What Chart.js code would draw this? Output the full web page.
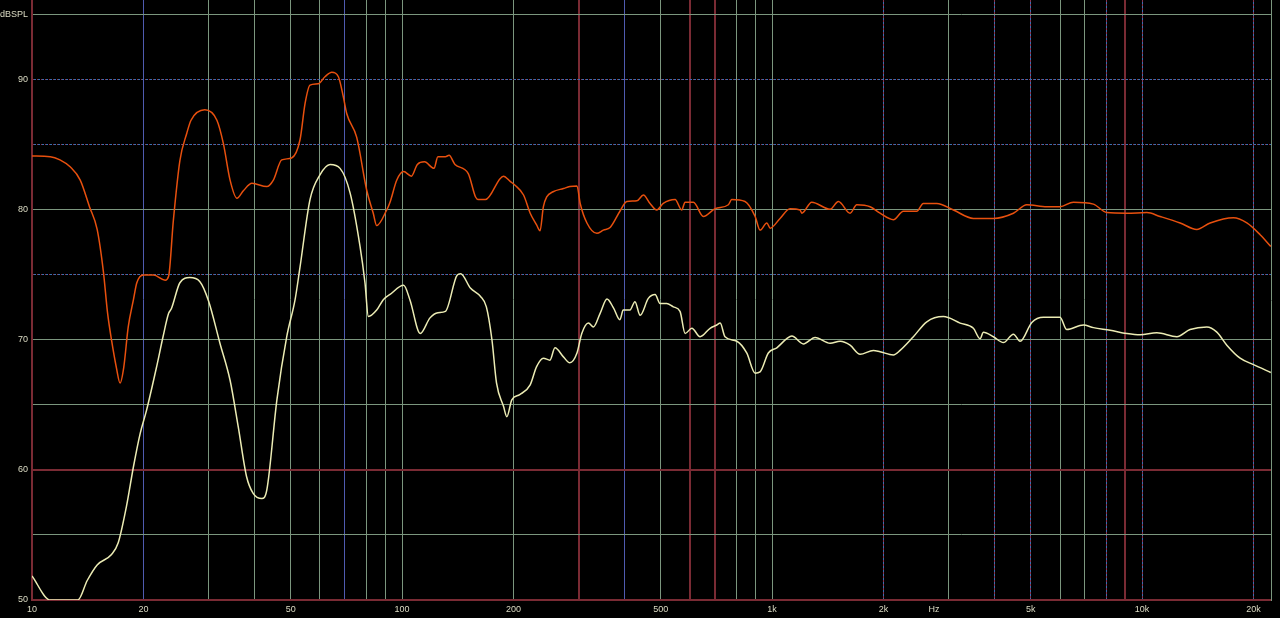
<!DOCTYPE html>
<html>
<head>
    <meta charset="UTF-8">
    <title>Frequency response</title>
    <script src="https://cdn.jsdelivr.net/npm/chart.js@4.4.1/dist/chart.umd.min.js"></script>
    <style>
        html, body {
            margin: 0;
            padding: 0;
            background: #000;
        }
        canvas {
            display: block;
        }
    </style>
</head>
<body>
<canvas id="fr" width="1280" height="618"></canvas>

<script>
    // upper (orange) trace
    const upperHz = [10, 11.2, 11.9, 12.7, 13.5, 14.3, 15.0, 15.6, 16.0, 16.4, 16.9, 17.3, 17.7, 18.2, 18.8, 19.2,
        20.0, 21.3, 22.9, 23.4, 24.1, 25.1, 26.2, 26.9, 29.3, 31.6, 32.9, 34.3, 35.8, 37.3, 39.3, 43.1, 44.9, 47.3,
        50.3, 53.0, 54.7, 56.4, 59.4, 61.9, 64.6, 67.3, 69.4, 70.9, 75.4, 80.3, 83.6, 85.4, 90.9, 92.8, 96.8,
        101, 106, 110, 115, 122, 125, 131, 134, 139, 151, 158, 161, 168, 188, 196, 202, 213, 222, 231, 236, 241,
        246, 256, 273, 284, 297, 303, 316, 336, 350, 365, 388, 405, 431, 449, 468, 488, 508, 547, 570, 582, 613,
        652, 702, 762, 778, 845, 900, 928, 968, 988, 1051, 1118, 1190, 1203, 1280, 1435, 1511, 1625, 1694, 1840,
        1958, 2127, 2264, 2460, 2563, 2787, 3090, 3500, 3964, 4490, 4880, 5526, 6000, 6522, 7385, 8028, 9092,
        10300, 11180, 12670, 14050, 15270, 17650, 19190, 20840, 22270];
    const upperDb = [84.15, 84.1, 83.85, 83.3, 82.3, 80.25, 78.5, 75.2, 72.1, 70.0, 67.9, 66.7, 67.9, 71.0, 73.1, 74.4,
        75.0, 75.0, 74.6, 74.9, 79.2, 83.8, 85.9, 86.9, 87.7, 86.9, 85.1, 82.3, 80.9, 81.5, 82.05, 81.8, 82.3, 83.85,
        84.0, 85.4, 88.2, 89.6, 89.7, 90.25, 90.6, 90.25, 88.7, 87.4, 85.6, 81.5, 79.75, 78.8, 80.0, 80.6, 82.3,
        82.95, 82.6, 83.5, 83.7, 83.2, 84.1, 84.1, 84.2, 83.5, 82.8, 81.0, 80.8, 80.8, 82.6, 82.2, 81.9, 81.15, 79.75, 78.85, 78.4, 80.25,
        81.0, 81.4, 81.65, 81.8, 81.85, 80.5, 79.0, 78.2, 78.45, 78.65, 79.9, 80.65, 80.7, 81.15, 80.5, 80.0, 80.5, 80.8, 80.0, 80.6, 80.6,
        79.5, 80.1, 80.4, 80.8, 80.65, 79.5, 78.45, 79.0, 78.6, 79.35, 80.1, 80.0, 79.75, 80.6, 80.05, 80.65, 79.75, 80.4, 80.25,
        79.75, 79.25, 79.9, 79.9, 80.5, 80.5, 80.0, 79.35, 79.35, 79.75, 80.4, 80.25, 80.25, 80.6, 80.45, 79.8, 79.75,
        79.8, 79.5, 79.0, 78.5, 79.0, 79.4, 79.0, 78.1, 77.2];

    // lower (pale yellow) trace
    const lowerHz = [10, 11.2, 13.3, 14.1, 15.0, 16.4, 17.1, 18.0, 18.8, 19.6, 20.4, 21.7, 22.6, 23.4, 23.8, 25.1,
        26.7, 28.4, 30.0, 32.2, 34.3, 36.1, 38.0, 39.6, 41.8, 43.1, 45.9, 48.8, 51.4, 53.0, 56.4, 60.0, 63.9, 68.0,
        72.4, 77.0, 79.4, 81.1, 85.4, 89.0, 92.8, 101, 105, 112, 119, 125, 131, 141, 144, 153, 163, 169, 175, 180,
        188, 192, 198, 208, 222, 231, 241, 251, 259, 273, 284, 297, 306, 319, 329, 343, 358, 373, 388, 396, 413,
        426, 440, 463, 483, 498, 519, 541, 564, 582, 607, 639, 680, 709, 724, 746, 803, 854, 900, 928, 977, 1030,
        1096, 1131, 1215, 1307, 1435, 1527, 1625, 1729, 1878, 1958, 2127, 2218, 2409, 2619, 2904, 3222, 3500,
        3648, 3725, 3964, 4218, 4490, 4681, 5034, 5410, 6000, 6258, 6941, 7385, 8194, 9092, 9876, 10960, 12410,
        13480, 14960, 15920, 16940, 18400, 20000, 22270];
    const lowerDb = [51.85, 50.0, 50.0, 51.5, 52.7, 53.5, 54.4, 57.2, 60.25, 62.8, 64.6, 67.9, 70.25, 72.05, 72.4, 74.4,
        74.8, 74.5, 73.0, 69.75, 66.9, 63.3, 59.5, 58.2, 57.8, 58.45, 65.4, 70.25, 73.1, 75.6, 80.8, 82.7, 83.5, 83.2,
        81.3, 77.2, 74.4, 71.8, 72.3, 73.1, 73.5, 74.2, 73.1, 70.5, 71.7, 72.1, 72.2, 75.0, 75.1, 74.0, 73.35, 72.55, 70.0, 66.7,
        64.9, 64.1, 65.4, 65.8, 66.55, 67.95, 68.6, 68.45, 69.4, 68.7, 68.25, 69.0, 70.5, 71.3, 71.0, 72.05, 73.15, 72.45, 71.55, 72.3, 72.3,
        72.95, 71.9, 73.2, 73.5, 72.8, 72.8, 72.55, 72.2, 70.5, 70.9, 70.25, 70.9, 71.15, 71.3, 70.25, 69.9, 69.0, 67.45, 67.55, 69.0, 69.4,
        70.1, 70.3, 69.7, 70.2, 69.75, 69.9, 69.6, 68.9, 69.2, 69.1, 68.85, 69.2, 70.25, 71.4, 71.8, 71.3, 70.9,
        70.1, 70.6, 70.25, 69.8, 70.45, 69.9, 71.35, 71.75, 71.75, 70.8, 71.15, 70.95, 70.75, 70.5, 70.4, 70.55, 70.25,
        70.8, 71.0, 70.6, 69.6, 68.6, 68.1, 67.5];

    // axis ticks and their labels
    const freqTicks = [10, 20, 30, 40, 50, 60, 70, 80, 90, 100, 200, 300, 400, 500, 600, 700, 800, 900,
        1000, 2000, 2740, 3000, 4000, 5000, 6000, 7000, 8000, 9000, 10000, 20000];
    const freqLabels = {10: '10', 20: '20', 50: '50', 100: '100', 200: '200', 500: '500', 1000: '1k',
        2000: '2k', 2740: 'Hz', 5000: '5k', 10000: '10k', 20000: '20k'};
    const dbTicks = [50, 55, 60, 65, 70, 75, 80, 85, 90, 95];
    const dbLabels = {50: '50', 60: '60', 70: '70', 80: '80', 90: '90', 95: 'dBSPL'};

    // grid line look: g = grey-green, r = red, b = blue, d = dotted, n = none
    const xGridStyle = {10: 'n', 20: 'b', 70: 'b', 300: 'r', 400: 'b', 600: 'r', 700: 'r', 2000: 'd', 2740: 'n',
        4000: 'd', 5000: 'd', 8000: 'd', 9000: 'r', 10000: 'd', 20000: 'd'};
    const yGridStyle = {50: 'n', 60: 'r', 75: 'd', 85: 'd', 90: 'd'};

    const GREEN = '#7b967e';
    const RED = '#7a2b34';
    const BLUE = '#4f5bb0';
    const DOT_A = '#8c3350';
    const DOT_B = '#3a6fb0';
    const LABEL = '#dcdcc4';

    function styleOf(map, ctx) {
        if (!ctx.tick) return 'n';
        return map[ctx.tick.value] || 'g';
    }

    function gridColor(map, overlay) {
        return ctx => {
            const s = styleOf(map, ctx);
            if (overlay) return s === 'd' ? DOT_B : 'rgba(0,0,0,0)';
            if (s === 'g') return GREEN;
            if (s === 'r') return RED;
            if (s === 'b') return BLUE;
            if (s === 'd') return DOT_A;
            return 'rgba(0,0,0,0)';
        };
    }

    function gridWidth(map) {
        return ctx => styleOf(map, ctx) === 'r' ? 2 : 1;
    }

    function gridDash(map) {
        return ctx => styleOf(map, ctx) === 'd' ? [2, 2] : [];
    }

    // keep the plot flush with the canvas top
    function noPad(size, key) {
        return s => {
            s[key] = size;
            s.paddingTop = 0;
            s.paddingBottom = 0;
        };
    }

    const font = {family: 'Liberation Sans, Arial, sans-serif', size: 9};

    const chart = new Chart(document.getElementById('fr'), {
        type: 'line',
        data: {
            datasets: [{
                label: 'upper',
                data: upperHz.map((f, i) => ({x: f, y: upperDb[i]})),
                borderColor: '#e8500e',
                borderWidth: 1.5,
                pointRadius: 0,
                cubicInterpolationMode: 'monotone'
            }, {
                label: 'lower',
                data: lowerHz.map((f, i) => ({x: f, y: lowerDb[i]})),
                borderColor: '#ececb4',
                borderWidth: 1.5,
                pointRadius: 0,
                cubicInterpolationMode: 'monotone'
            }]
        },
        options: {
            responsive: false,
            animation: false,
            devicePixelRatio: 1,
            layout: {padding: 0},
            plugins: {
                legend: {display: false},
                tooltip: {enabled: false}
            },
            scales: {
                x: {
                    type: 'logarithmic',
                    position: 'bottom',
                    min: 10,
                    max: 22300,
                    afterBuildTicks: s => { s.ticks = freqTicks.map(v => ({value: v})); },
                    afterFit: s => { s.height = 18; },
                    ticks: {
                        autoSkip: false,
                        maxRotation: 0,
                        padding: 4,
                        color: LABEL,
                        font: font,
                        callback: v => freqLabels[v] || ''
                    },
                    grid: {
                        drawTicks: false,
                        color: gridColor(xGridStyle, false),
                        lineWidth: gridWidth(xGridStyle)
                    },
                    border: {
                        color: RED,
                        width: 2,
                        dash: gridDash(xGridStyle)
                    }
                },
                x2: {
                    type: 'logarithmic',
                    position: 'bottom',
                    min: 10,
                    max: 22300,
                    afterBuildTicks: s => { s.ticks = freqTicks.map(v => ({value: v})); },
                    afterFit: s => { s.height = 0; },
                    ticks: {display: false},
                    grid: {
                        drawTicks: false,
                        color: gridColor(xGridStyle, true)
                    },
                    border: {
                        display: false,
                        dash: gridDash(xGridStyle),
                        dashOffset: 2
                    }
                },
                y: {
                    type: 'linear',
                    position: 'left',
                    min: 50,
                    max: 96.15,
                    afterBuildTicks: s => { s.ticks = dbTicks.map(v => ({value: v})); },
                    afterFit: noPad(32, 'width'),
                    ticks: {
                        autoSkip: false,
                        padding: 4,
                        color: LABEL,
                        font: font,
                        callback: v => dbLabels[v] || ''
                    },
                    grid: {
                        drawTicks: false,
                        color: gridColor(yGridStyle, false),
                        lineWidth: gridWidth(yGridStyle)
                    },
                    border: {
                        color: RED,
                        width: 2,
                        dash: gridDash(yGridStyle)
                    }
                },
                y2: {
                    type: 'linear',
                    position: 'left',
                    min: 50,
                    max: 96.15,
                    afterBuildTicks: s => { s.ticks = dbTicks.map(v => ({value: v})); },
                    afterFit: noPad(0, 'width'),
                    ticks: {display: false},
                    grid: {
                        drawTicks: false,
                        color: gridColor(yGridStyle, true)
                    },
                    border: {
                        display: false,
                        dash: gridDash(yGridStyle),
                        dashOffset: 2
                    }
                },
                yRight: {
                    type: 'linear',
                    position: 'right',
                    min: 50,
                    max: 96.15,
                    afterFit: noPad(9, 'width'),
                    ticks: {display: false},
                    grid: {drawOnChartArea: false, drawTicks: false},
                    border: {color: GREEN, width: 1}
                }
            }
        }
    });
</script>
</body>
</html>
